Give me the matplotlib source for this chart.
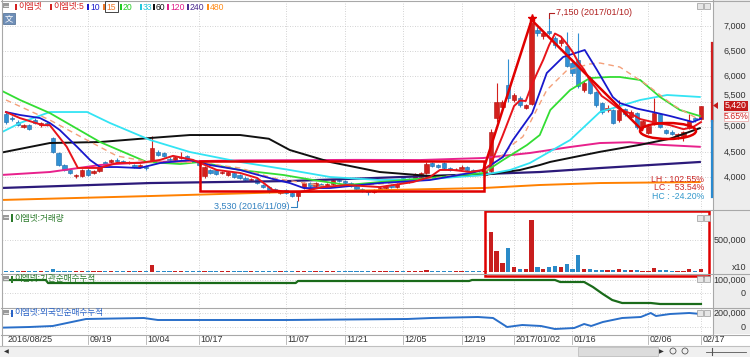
import numpy as np
import matplotlib
matplotlib.use("Agg")
import matplotlib.pyplot as plt
from matplotlib.patches import Rectangle, Ellipse, Polygon
from matplotlib.lines import Line2D
from matplotlib.transforms import blended_transform_factory

plt.rcParams['font.family'] = ['Liberation Sans', 'Noto Sans CJK KR', 'DejaVu Sans']

# ---------------- data ----------------
tick_idx = [0, 14, 24, 33, 48, 58, 68, 78, 87, 97, 110, 119]
tick_labels = ['2016/08/25', '09/19', '10/04', '10/17', '11/07', '11/21', '12/05',
               '12/19', '2017/01/02', '01/16', '02/06', '02/17']

opens = [5250, 5180, 5100, 5000, 5030, 5140, 5040, 5070, 4780, 4480,
         4240, 4140, 4010, 4020, 4140, 4080, 4110, 4300, 4290, 4330,
         4310, 4280, 4230, 4200, 4200, 4340, 4500, 4470, 4360, 4340,
         4370, 4410, 4340, 4300, 4020, 4140, 4130, 4070, 4040, 4070,
         4030, 3990, 3940, 3970, 3850, 3810, 3760, 3690, 3740, 3690,
         3620, 3800, 3880, 3830, 3870, 3820, 3860, 3950, 3920, 3880,
         3830, 3770, 3720, 3700, 3730, 3780, 3840, 3800, 3980, 3900,
         3960, 4000, 4080, 4280, 4230, 4270, 4170, 4150, 4160, 4200,
         4140, 4080, 4040, 4120, 5170, 5390, 5830, 5530, 5570, 5380,
         5450, 6920, 6800, 6900, 6760, 6660, 6600, 6260, 6320, 5720,
         5980, 5680, 5470, 5330, 5330, 5130, 5350, 5200, 5270, 4990,
         4880, 5070, 5250, 4930, 4900, 4840, 4820, 4980, 5170, 5150]
highs = [5290, 5220, 5130, 5060, 5060, 5180, 5100, 5100, 4800, 4500,
         4260, 4160, 4060, 4160, 4170, 4130, 4220, 4320, 4350, 4380,
         4340, 4320, 4250, 4260, 4230, 4810, 4540, 4500, 4400, 4420,
         4490, 4430, 4360, 4320, 4220, 4160, 4150, 4120, 4110, 4090,
         4050, 4010, 3990, 3990, 3870, 3830, 3780, 3740, 3760, 3700,
         3720, 3900, 3910, 3900, 3890, 3880, 3970, 3990, 3940, 3900,
         3850, 3790, 3740, 3760, 3800, 3850, 3860, 3880, 4000, 3980,
         4080, 4100, 4300, 4300, 4260, 4290, 4200, 4180, 4230, 4220,
         4160, 4100, 4140, 4950, 5870, 5520, 6350, 5660, 5600, 5460,
         7060, 6980, 6900, 7150, 6800, 6800, 6880, 6300, 6860, 5900,
         6000, 5700, 5500, 5440, 5360, 5530, 5380, 5330, 5300, 5140,
         5050, 5560, 5280, 4960, 4930, 4880, 4920, 5260, 5200, 5420]
lows = [5060, 5120, 5020, 4980, 4940, 5060, 5000, 5020, 4480, 4220,
        4120, 4060, 3990, 4000, 4020, 4060, 4090, 4220, 4270, 4280,
        4270, 4260, 4170, 4180, 4130, 4320, 4420, 4400, 4300, 4320,
        4350, 4330, 4300, 4220, 3990, 4060, 4040, 4050, 4020, 3990,
        3960, 3930, 3920, 3860, 3790, 3690, 3700, 3670, 3660, 3600,
        3530, 3760, 3810, 3810, 3800, 3800, 3850, 3900, 3860, 3810,
        3740, 3700, 3650, 3680, 3720, 3770, 3780, 3790, 3880, 3880,
        3940, 3980, 4060, 4200, 4180, 4160, 4120, 4130, 4150, 4120,
        4060, 4040, 4020, 4100, 5100, 5360, 5500, 5490, 5400, 5350,
        5430, 6800, 6750, 6830, 6560, 6600, 6180, 6000, 5760, 5680,
        5640, 5400, 5260, 5300, 5050, 5100, 5220, 5180, 4960, 4960,
        4850, 5040, 4980, 4850, 4830, 4760, 4720, 4960, 5100, 5130]
closes = [5090, 5150, 5040, 5030, 4960, 5080, 5070, 5040, 4500, 4240,
          4140, 4080, 4030, 4140, 4040, 4110, 4200, 4240, 4330, 4320,
          4290, 4300, 4190, 4240, 4180, 4570, 4440, 4420, 4340, 4390,
          4400, 4350, 4320, 4240, 4200, 4080, 4060, 4090, 4100, 4000,
          3980, 3950, 3970, 3880, 3810, 3710, 3720, 3710, 3690, 3630,
          3700, 3880, 3830, 3880, 3820, 3860, 3950, 3920, 3880, 3830,
          3760, 3720, 3700, 3740, 3780, 3830, 3800, 3860, 3900, 3950,
          4050, 4080, 4260, 4220, 4200, 4180, 4140, 4160, 4200, 4140,
          4080, 4060, 4120, 4890, 5490, 5490, 5570, 5630, 5430, 5430,
          7060, 6860, 6870, 6860, 6620, 6720, 6200, 6060, 5800, 5870,
          5670, 5430, 5290, 5370, 5070, 5330, 5250, 5300, 4990, 5110,
          5020, 5270, 5000, 4880, 4860, 4850, 4900, 5120, 5130, 5420]
volume_k = [16, 14, 12, 18, 14, 12, 16, 12, 52, 22,
            18, 16, 16, 14, 14, 16, 14, 14, 16, 14,
            12, 14, 16, 12, 14, 105, 22, 14, 16, 14,
            14, 16, 12, 14, 16, 18, 14, 16, 12, 14,
            16, 12, 14, 12, 18, 16, 14, 14, 12, 14,
            18, 12, 14, 16, 12, 14, 16, 14, 12, 18,
            16, 14, 12, 14, 18, 20, 14, 16, 12, 14,
            16, 22, 28, 20, 12, 16, 14, 12, 18, 16,
            16, 16, 14, 631, 327, 142, 379, 74, 50, 50,
            815, 74, 50, 74, 90, 74, 125, 40, 263, 40,
            40, 25, 35, 35, 25, 50, 25, 25, 25, 20,
            20, 70, 25, 25, 20, 20, 12, 40, 20, 40]

# moving-average lines, read as (candle index, price) points
ma5_x = [0, 2.4, 6.3, 7.5, 10.4, 12.3, 16.1, 19, 22.9, 26.4, 28.6, 30.3, 32, 36.1, 40.1,
         43, 45.7, 48.6, 50.3, 54.3, 58.4, 64, 69.7, 72.6, 74.3, 76.5, 79.5, 81.7, 83, 84,
         85, 86, 87, 88, 89, 90, 91, 92, 93, 94, 95, 96, 97, 98, 99, 100, 101, 102, 103,
         105, 107, 108.6, 110.8, 113.7, 116, 117.6, 119]
ma5_y = [5290, 5170, 5030, 5030, 4600, 4180, 4180, 4280, 4280, 4340, 4420, 4380, 4340, 4140, 4080,
         3980, 3740, 3700, 3700, 3800, 3840, 3800, 3900, 4000, 4140, 4140, 4100, 4140, 4250, 4530,
         4810, 5110, 5410, 5520, 5510, 5820, 6080, 6330, 6620, 6850, 6790, 6650, 6490, 6280, 6130,
         5920, 5770, 5610, 5530, 5350, 5260, 5150, 5090, 5030, 4950, 4990, 5090]
ma10_x = [0, 2.4, 5.8, 7.5, 9.2, 12.2, 14.4, 16.1, 19, 22.9, 26.4, 31.5, 34.9, 40.1, 45.7, 48.6,
          51, 55.5, 64, 72.6, 79.5, 81.7, 85.1, 86.8, 90.1, 92.6, 95.4, 99.1, 101.2, 103.9, 105.1,
          108, 110.8, 113.7, 117.6, 119]
ma10_y = [5290, 5232, 5172, 5073, 4934, 4596, 4337, 4198, 4198, 4178, 4278, 4337, 4238, 4139, 3960,
          3880, 3780, 3781, 3880, 3940, 4080, 4139, 4397, 4735, 5271, 6066, 6384, 6523, 6126, 5589,
          5470, 5360, 5290, 5212, 5093, 5160]
ma15_x = [0, 7.5, 13.2, 19, 24.7, 33, 40.1, 45.7, 55.5, 64, 72.6, 82.4, 86.8, 88.5, 92.6, 96.1,
          100, 101.7, 105.1, 109.8, 114.2, 118.8]
ma15_y = [5530, 5132, 4775, 4417, 4298, 4290, 4178, 3980, 3800, 3860, 3960, 4139, 4650, 4800,
          5728, 6126, 6245, 6265, 6185, 5828, 5430, 5132]
ma20_x = [-1, 2.4, 7.5, 16.1, 24.1, 29.8, 33.2, 40.1, 47.5, 52.6, 58.4, 64, 72.6, 81.7, 85.1,
          89.2, 91.4, 93.2, 96.6, 100, 103.4, 105.1, 108.6, 112, 115.4, 118.8]
ma20_y = [5728, 5530, 5271, 4695, 4298, 4258, 4298, 4139, 4040, 3940, 3841, 3900, 3980, 4079, 4337,
          4635, 4834, 5331, 5728, 5967, 5987, 5987, 5927, 5589, 5331, 5212]
ma33_x = [-1, 2.4, 7.5, 13.9, 17.8, 24.7, 31.5, 40.1, 48.6, 55.5, 64, 72.6, 81.7, 86.3, 89.7,
          96.6, 101.7, 108.6, 113.2, 118.8]
ma33_y = [4874, 5073, 5291, 5291, 5073, 4735, 4496, 4298, 4139, 4000, 3940, 3960, 4039, 4139, 4278,
          4735, 5291, 5530, 5629, 5590]
ma60_x = [-1, 7.5, 16.1, 24.7, 31.5, 40.1, 45, 48.6, 55.5, 64, 72.6, 81.7, 88, 91.4, 93.2, 101.7,
          108.6, 113.7, 118.8]
ma60_y = [4480, 4675, 4695, 4775, 4834, 4834, 4760, 4536, 4298, 4099, 4020, 4039, 4139, 4238, 4300,
          4500, 4640, 4760, 4970]
ma120_x = [-1, 7.5, 16.1, 24.7, 40, 60, 70.9, 81.7, 89.7, 96.6, 101.7, 106.8, 112, 118.8]
ma120_y = [4039, 4099, 4238, 4298, 4330, 4340, 4337, 4377, 4477, 4596, 4675, 4690, 4640, 4600]
ma240_x = [-1, 24.7, 48.6, 72.6, 91.4, 101.7, 118.8]
ma240_y = [3781, 3880, 3920, 4020, 4099, 4178, 4298]
ma480_x = [-1, 24.7, 48.6, 81.7, 91.4, 101.7, 118.8]
ma480_y = [3543, 3622, 3702, 3781, 3841, 3880, 3900]

# institutional / foreign cumulative net buying, read as (candle index, value) points
inst_x = [-1, 6.8, 7.2, 49.6, 50, 79.3, 79.8, 94, 94.9, 99, 100.5, 102.2, 103.8, 105.5, 110.4, 112, 119]
inst_y = [100000, 100000, 76900, 76900, 92300, 92300, 100000, 100000, 84600, 84600, 46150, -7700,
          -53850, -76900, -76900, -84600, -84600]
frgn_x = [-1, 4, 8, 13.7, 23.6, 26, 33.4, 48.1, 68.7, 72.8, 80.8, 83.4, 85.8, 88.4, 91.6, 94,
          97.3, 99, 100.2, 102.2, 105.5, 108.7, 110.4, 111.3, 113.7, 117, 119]
frgn_y = [-10000, 0, 14300, 114300, 128600, 100000, 100000, 100000, 114300, 128600, 142900, 128600,
          0, 28600, 14300, -28600, -14300, 42900, 14300, 71400, 128600, 142900, 200000, 157100,
          185700, 200000, 185700]

legend_labels = ['이엠넷', '이엠넷:5', '10', '15', '20', '33', '60', '120', '240', '480']
legend_colors = ['#d42020', '#d42020', '#1a1acc', '#f07828', '#22cc22', '#22c8dd', '#111111',
                 '#e0208a', '#4a2a90', '#ff8c1a']
price_levels = [4000, 4500, 5000, 5500, 6000, 6500, 7000]

# ---------------- layout helpers ----------------
W, H = 750, 357
fig = plt.figure(figsize=(W / 100, H / 100), dpi=100)
fig.patch.set_facecolor('white')


def fx(x):
    return x / W


def fy(y):
    return 1 - y / H


X0, XSTEP = 6.0, 5.84


def pidx(x):
    return (x - X0) / XSTEP


XL = (pidx(2), pidx(712))


def lim_from(y_top, y_bot, ya, va, yb, vb):
    k = (vb - va) / (yb - ya)
    return (va + (y_bot - ya) * k, va + (y_top - ya) * k)


def make_ax(y0, y1, ylim):
    ax = fig.add_axes([fx(2), fy(y1), fx(712) - fx(2), (y1 - y0) / H])
    ax.set_xlim(*XL)
    ax.set_ylim(*ylim)
    ax.set_xticks([])
    ax.set_yticks([])
    for s in ax.spines.values():
        s.set_visible(False)
    ax.patch.set_alpha(0)
    return ax


# right grey strip
fig.patches.append(Rectangle((fx(713), fy(334)), fx(750) - fx(713), fy(0) - fy(334),
                             transform=fig.transFigure, facecolor='#ededed', edgecolor='none', zorder=0))

ax = make_ax(1, 209, lim_from(1, 209, 26, 7000, 177, 4000))
axv = make_ax(211, 273, lim_from(211, 273, 272, 0, 240, 500000))
axi = make_ax(274, 307, lim_from(274, 307, 293, 0, 280, 100000))
axf = make_ax(308, 334, lim_from(308, 334, 327, 0, 313, 200000))


def ypix(a, v):
    """figure-pixel y of value v in axis a (for fig texts)."""
    disp = a.transData.transform((0, v))
    return H - disp[1] * H / fig.bbox.height


GRID = dict(color='#c4c4c4', lw=0.6, ls=(0, (1, 2)), zorder=1)
for a in (ax, axv, axi, axf):
    for t in tick_idx[1:]:
        a.axvline(t, **GRID)
for lv in price_levels:
    ax.axhline(lv, **GRID)
axv.axhline(500000, **GRID)
axi.axhline(100000, **GRID)
axi.axhline(0, **GRID)
axf.axhline(200000, **GRID)
axf.axhline(0, **GRID)

# ---------------- candles ----------------
o = np.array(opens, float)
hi = np.array(highs, float)
lo = np.array(lows, float)
c = np.array(closes, float)
idx = np.arange(len(c))
RED, BLUE = '#d3211d', '#3090d4'
up = c >= o
cols = np.where(up, RED, BLUE)
edge = np.where(up, '#b01010', '#1f6aa8')
ax.vlines(idx, lo, hi, colors=cols, lw=0.8, zorder=4)
body_lo = np.minimum(o, c)
body_h = np.maximum(np.abs(c - o), 18)
ax.bar(idx, body_h, bottom=body_lo, width=0.72, color=cols, edgecolor=edge, lw=0.4, zorder=5)

# moving averages
ax.plot(ma480_x, ma480_y, color='#ff8000', lw=1.4, zorder=6)
ax.plot(ma240_x, ma240_y, color='#2c1a7a', lw=1.6, zorder=6)
ax.plot(ma120_x, ma120_y, color='#e8218c', lw=1.4, zorder=6)
ax.plot(ma60_x, ma60_y, color='#111111', lw=1.4, zorder=6)
ax.plot(ma33_x, ma33_y, color='#33e4f4', lw=1.3, zorder=6)
ax.plot(ma20_x, ma20_y, color='#33dd33', lw=1.3, zorder=6)
ax.plot(ma15_x, ma15_y, color='#f4a07a', lw=1.0, ls=(0, (4, 3)), zorder=6)
ax.plot(ma10_x, ma10_y, color='#1818cc', lw=1.3, zorder=6)
ax.plot(ma5_x, ma5_y, color='#e8141b', lw=1.4, zorder=6)

# hand-drawn annotations (red)
ANN = dict(color='#e00000', lw=1.8, zorder=7)
ihi = int(np.argmax(hi))
ilo = int(np.argmin(lo))
ipk = int(np.argmax(c))
ax.add_patch(Rectangle((pidx(200), 3722), pidx(484) - pidx(200), 4318 - 3722,
                       fill=False, edgecolor='#e00000', lw=1.8, zorder=7))
ax.plot([pidx(483), ipk], [4120, 7119], **ANN)
ax.plot([ipk, pidx(642)], [7119, 4934], **ANN)
ax.add_patch(Ellipse((pidx(668), 4914), pidx(696) - pidx(640), 318, fill=False,
                     edgecolor='#e00000', lw=1.8, zorder=7))
ax.plot([ipk], [7150], marker='*', ms=6, color='#e00000', zorder=8)

# high / low labels
ax.plot([ihi, ihi, ihi + 0.8], [hi[ihi] + 10, hi[ihi] + 110, hi[ihi] + 110], color='#b02020', lw=0.8, zorder=8)
ax.text(ihi + 1.1, hi[ihi] + 110, f"{int(hi[ihi]):,} (2017/01/10)", color='#b02020', fontsize=6.5,
        va='center', ha='left', zorder=8)
ax.plot([ilo - 1.2, ilo - 0.2, ilo - 0.2], [lo[ilo] - 125, lo[ilo] - 125, lo[ilo] - 15],
        color='#3080c0', lw=0.8, zorder=8)
ax.text(ilo - 1.5, lo[ilo] - 125, f"{int(lo[ilo]):,} (2016/11/09)", color='#3080c0', fontsize=6.5,
        va='center', ha='right', zorder=8)

# ---------------- volume ----------------
vol = np.array(volume_k, float) * 1000
axv.bar(idx, vol, width=0.72, color=np.where(up, '#c81e1e', '#2a8ac8'), zorder=4)

# institutional / foreign
axi.plot(inst_x, inst_y, color='#1a6b1a', lw=1.6, zorder=4)
axf.plot(frgn_x, frgn_y, color='#2a6fc9', lw=1.4, zorder=4)

# red box over volume panel (spans into next panel)
fig.patches.append(Rectangle((fx(485), fy(276)), fx(709) - fx(485), fy(211) - fy(276),
                             transform=fig.transFigure, fill=False, edgecolor='#e00000', lw=1.8, zorder=9))

# ---------------- frame lines ----------------
LINE = dict(transform=fig.transFigure, color='#a8a8a8', lw=0.8, zorder=10)
for yy in (0.5, 210, 273.5, 307.5, 334.5):
    fig.lines.append(Line2D([fx(1), fx(750)], [fy(yy), fy(yy)], **LINE))
fig.lines.append(Line2D([fx(1.5), fx(1.5)], [fy(0), fy(345)], **LINE))
fig.lines.append(Line2D([fx(712.5), fx(712.5)], [fy(0), fy(334)], **LINE))

# current price
cur = c[-1]
chg = (c[-1] / c[-2] - 1) * 100
ycur = ypix(ax, cur)

# right axis labels (5,500 sits just above the current-price box)
TXT = dict(fontsize=6.5, color='#333333', va='center')
for lv in price_levels:
    yl = ypix(ax, lv)
    if abs(yl - ycur) < 9:
        yl = ycur - 10
    fig.text(fx(746), fy(yl), f"{lv:,}", ha='right', **TXT)
fig.text(fx(746), fy(ypix(axv, 500000)), "500,000", ha='right', **TXT)
fig.text(fx(746), fy(267), "x10", ha='right', **TXT)
fig.text(fx(746), fy(ypix(axi, 100000)), "100,000", ha='right', **TXT)
fig.text(fx(746), fy(ypix(axi, 0)), "0", ha='right', **TXT)
fig.text(fx(746), fy(ypix(axf, 200000)), "200,000", ha='right', **TXT)
fig.text(fx(746), fy(ypix(axf, 0)), "0", ha='right', **TXT)

# current price marker
fig.patches.append(Rectangle((fx(724), fy(ycur + 5)), fx(748) - fx(724), fy(0) - fy(10),
                             transform=fig.transFigure, facecolor='#c41a1a', edgecolor='none', zorder=11))
fig.text(fx(736), fy(ycur), f"{int(cur):,}", ha='center', va='center', fontsize=6.3, color='white', zorder=12)
fig.patches.append(Rectangle((fx(724), fy(ycur + 15)), fx(748) - fx(724), fy(0) - fy(9),
                             transform=fig.transFigure, facecolor='white', edgecolor='#f0b0b0', lw=0.6, zorder=11))
fig.text(fx(736), fy(ycur + 10.5), f"{chg:.2f}%", ha='center', va='center', fontsize=6.3, color='#d02020', zorder=12)
fig.patches.append(Polygon([[fx(713), fy(ycur)], [fx(718), fy(ycur - 3.5)], [fx(718), fy(ycur + 3.5)]],
                           closed=True, transform=fig.transFigure, facecolor='#c41a1a', edgecolor='none', zorder=11))
# price range bar
fig.lines.append(Line2D([fx(712), fx(712)], [fy(43), fy(ycur + 15)], transform=fig.transFigure,
                        color='#d02020', lw=1.6, zorder=11))
fig.lines.append(Line2D([fx(712), fx(712)], [fy(ycur + 15), fy(197)], transform=fig.transFigure,
                        color='#2a8ad0', lw=1.6, zorder=11))

# LH / LC / HC
lh = (hi.max() / lo.min() - 1) * 100
lc = (cur / lo.min() - 1) * 100
hc = (cur / hi.max() - 1) * 100
fig.text(fx(704), fy(180), f"LH : {lh:.2f}%", ha='right', va='center', fontsize=6.3, color='#cc2a2a', zorder=12)
fig.text(fx(704), fy(188), f"LC :  {lc:.2f}%", ha='right', va='center', fontsize=6.3, color='#cc2a2a', zorder=12)
fig.text(fx(704), fy(196), f"HC : {hc:.2f}%", ha='right', va='center', fontsize=6.3, color='#3399cc', zorder=12)

# ---------------- legend ----------------
leg_x = [15, 50, 87, 103, 120, 140, 153, 167, 187, 207]
for lx, lab, col in zip(leg_x, legend_labels, legend_colors):
    fig.patches.append(Rectangle((fx(lx), fy(10)), fx(2), fy(4) - fy(10), transform=fig.transFigure,
                                 facecolor=col, edgecolor='none', zorder=12))
    fig.text(fx(lx + 3), fy(7), lab, ha='left', va='center', fontsize=6.2, color=col, zorder=12)
fig.patches.append(Rectangle((fx(104.5), fy(12)), fx(13), fy(1.5) - fy(12), transform=fig.transFigure,
                             fill=False, edgecolor='#444444', lw=0.7, zorder=12))


def menu_icon(x, y):
    fig.patches.append(Rectangle((fx(x), fy(y + 5)), fx(6), fy(0) - fy(5), transform=fig.transFigure,
                                 facecolor='#9a9a9a', edgecolor='none', zorder=12))
    fig.lines.append(Line2D([fx(x + 1), fx(x + 5)], [fy(y + 2.5), fy(y + 2.5)], transform=fig.transFigure,
                            color='white', lw=0.5, zorder=13))


def corner_icons(y):
    for xx in (697, 704):
        fig.patches.append(Rectangle((fx(xx), fy(y + 6)), fx(6), fy(0) - fy(6), transform=fig.transFigure,
                                     facecolor='#e6e6e6', edgecolor='#9a9a9a', lw=0.5, zorder=12))


menu_icon(3, 3)
corner_icons(3)
fig.patches.append(Rectangle((fx(3), fy(24)), fx(12), fy(0) - fy(11), transform=fig.transFigure,
                             facecolor='#6f8fb8', edgecolor='#4a6a90', lw=0.5, zorder=12))
fig.text(fx(9), fy(18.5), '文', ha='center', va='center', fontsize=6, color='white',
         family=['Noto Sans CJK KR'], zorder=13)

# sub-panel titles
sub = [(218, '이엠넷:거래량', '#2a7a2a'), (279, '이엠넷:기관순매수누적', '#2a7a2a'),
       (313, '이엠넷:외국인순매수누적', '#2a64c8')]
for yy, lab, col in sub:
    menu_icon(3, yy - 3)
    corner_icons(yy - 3)
    fig.patches.append(Rectangle((fx(11), fy(yy + 3.5)), fx(2), fy(0) - fy(7), transform=fig.transFigure,
                                 facecolor=col, edgecolor='none', zorder=12))
    fig.text(fx(14), fy(yy), lab, ha='left', va='center', fontsize=6.2, color=col, zorder=12)

# ---------------- date axis ----------------
tr = blended_transform_factory(axf.transData, fig.transFigure)
for t, lab in zip(tick_idx, tick_labels):
    axf.text(t + 0.25, fy(340), lab, transform=tr, ha='left', va='center', fontsize=6.5,
             color='#333333', clip_on=False)
    if t > 0:
        axf.plot([t, t], [fy(335), fy(344)], transform=tr, color='#b0b0b0', lw=0.6, clip_on=False)

# ---------------- scrollbar ----------------
fig.patches.append(Rectangle((0, 0), 1, fy(346), transform=fig.transFigure,
                             facecolor='#f0f0f0', edgecolor='none', zorder=0))
fig.lines.append(Line2D([0, 1], [fy(346), fy(346)], transform=fig.transFigure, color='#c0c0c0', lw=0.8))
fig.patches.append(Rectangle((fx(578), fy(356)), fx(80), fy(0) - fy(9), transform=fig.transFigure,
                             facecolor='#dcdcdc', edgecolor='#b8b8b8', lw=0.5))
fig.text(fx(4), fy(351.5), '◀', fontsize=4.5, color='#333333', va='center', family=['DejaVu Sans'])
fig.text(fx(659), fy(351.5), '▶', fontsize=4.5, color='#333333', va='center', family=['DejaVu Sans'])
for xx in (670, 682):
    fig.patches.append(Ellipse((fx(xx + 3), fy(351)), fx(6), fy(0) - fy(6), transform=fig.transFigure,
                               fill=False, edgecolor='#555555', lw=0.6))
fig.lines.append(Line2D([fx(706), fx(746)], [fy(351.5), fy(351.5)], transform=fig.transFigure,
                        color='#555555', lw=0.6))
fig.lines.append(Line2D([fx(712), fx(712)], [fy(348), fy(355)], transform=fig.transFigure,
                        color='#555555', lw=0.8))

fig.savefig('out.png', dpi=100)
